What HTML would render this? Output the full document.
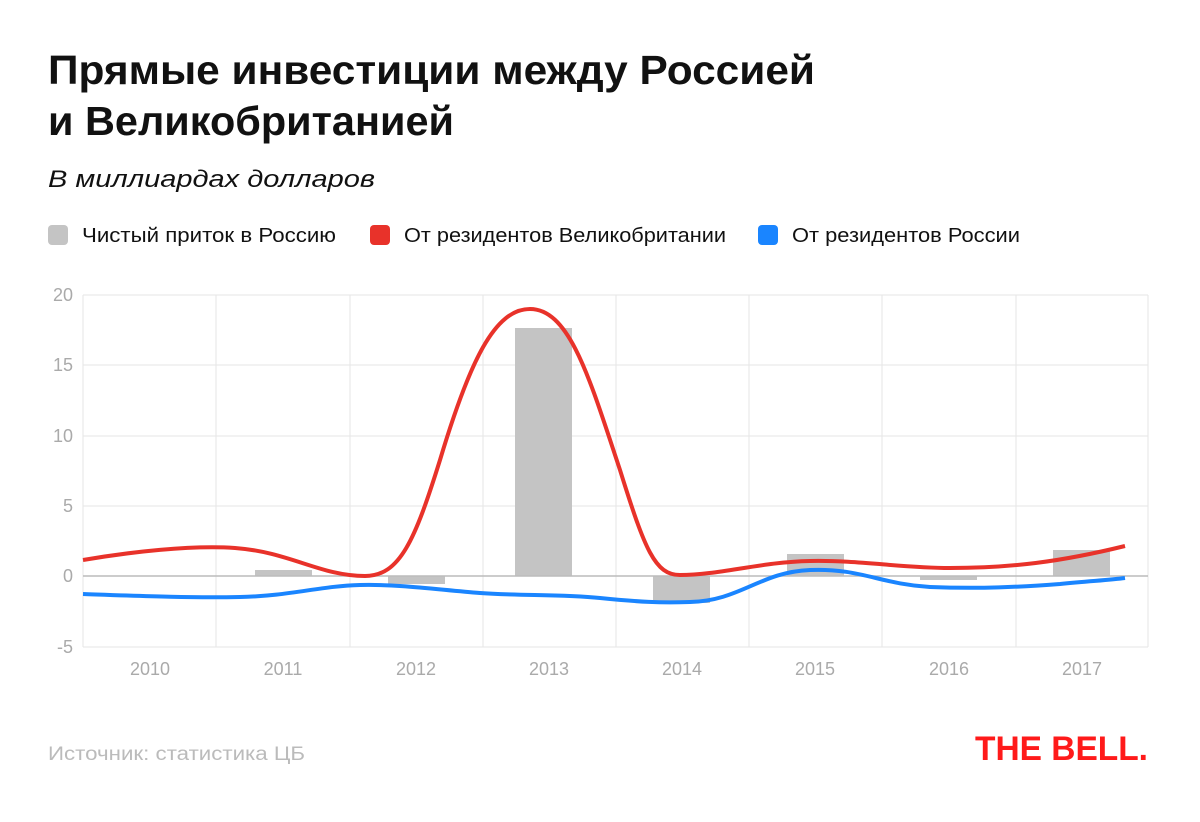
<!DOCTYPE html>
<html><head><meta charset="utf-8"><style>
body{margin:0;background:#fff;width:1200px;height:817px;overflow:hidden;font-family:"Liberation Sans","DejaVu Sans",sans-serif}
</style></head><body>
<svg width="1200" height="817" xmlns="http://www.w3.org/2000/svg" font-family="Liberation Sans, DejaVu Sans, sans-serif">
<text x="48" y="84" font-size="41" font-weight="bold" fill="#111" textLength="767" lengthAdjust="spacingAndGlyphs">Прямые инвестиции между Россией</text>
<text x="48" y="135" font-size="41" font-weight="bold" fill="#111" textLength="406" lengthAdjust="spacingAndGlyphs">и Великобританией</text>
<text x="48" y="187" font-size="24" font-style="italic" fill="#111" textLength="327" lengthAdjust="spacingAndGlyphs">В миллиардах долларов</text>
<rect x="48" y="225" width="20" height="20" rx="4" fill="#c4c4c4"/>
<text x="82" y="242" font-size="20" fill="#111" textLength="254" lengthAdjust="spacingAndGlyphs">Чистый приток в Россию</text>
<rect x="370" y="225" width="20" height="20" rx="4" fill="#e8322a"/>
<text x="404" y="242" font-size="20" fill="#111" textLength="322" lengthAdjust="spacingAndGlyphs">От резидентов Великобритании</text>
<rect x="758" y="225" width="20" height="20" rx="4" fill="#1a85ff"/>
<text x="792" y="242" font-size="20" fill="#111" textLength="228" lengthAdjust="spacingAndGlyphs">От резидентов России</text>
<g stroke="#e6e6e6" stroke-width="1">
<line x1="83" y1="295" x2="1148" y2="295"/><line x1="83" y1="365" x2="1148" y2="365"/>
<line x1="83" y1="436" x2="1148" y2="436"/><line x1="83" y1="506" x2="1148" y2="506"/>
<line x1="83" y1="647" x2="1148" y2="647"/>
<line x1="83" y1="295" x2="83" y2="647"/><line x1="216" y1="295" x2="216" y2="647"/>
<line x1="350" y1="295" x2="350" y2="647"/><line x1="483" y1="295" x2="483" y2="647"/>
<line x1="616" y1="295" x2="616" y2="647"/><line x1="749" y1="295" x2="749" y2="647"/>
<line x1="882" y1="295" x2="882" y2="647"/><line x1="1016" y1="295" x2="1016" y2="647"/>
<line x1="1148" y1="295" x2="1148" y2="647"/>
</g>
<g fill="#aaa" font-size="18" text-anchor="end">
<text x="73" y="301">20</text><text x="73" y="371">15</text><text x="73" y="442">10</text>
<text x="73" y="512">5</text><text x="73" y="582">0</text><text x="73" y="653">-5</text>
</g>
<g fill="#aaa" font-size="18" text-anchor="middle">
<text x="150" y="675">2010</text><text x="283" y="675">2011</text><text x="416" y="675">2012</text>
<text x="549" y="675">2013</text><text x="682" y="675">2014</text><text x="815" y="675">2015</text>
<text x="949" y="675">2016</text><text x="1082" y="675">2017</text>
</g>
<g fill="#c4c4c4">
<rect x="255" y="570" width="57" height="6"/>
<rect x="388" y="576" width="57" height="8"/>
<rect x="515" y="328" width="57" height="248"/>
<rect x="653" y="576" width="57" height="27"/>
<rect x="787" y="554" width="57" height="22"/>
<rect x="920" y="576" width="57" height="4"/>
<rect x="1053" y="550" width="57" height="26"/>
</g>
<line x1="83" y1="576" x2="1148" y2="576" stroke="#bbb" stroke-width="1.5"/>
<path d="M83,560 C130,552 190,545 235,548 C290,552 320,576 365,576 C400,576 415,540 440,460 C470,360 495,309 530,309 C570,309 590,380 620,470 C645,550 655,575 680,575 C720,575 760,562 810,561 C860,560 900,568 950,568 C1010,568 1060,562 1125,546" fill="none" stroke="#e8322a" stroke-width="4"/>
<path d="M83,594 C140,596 190,598 240,597 C290,596 320,586 360,585 C400,584 440,590 480,593 C520,596 560,594 600,598 C640,602 660,603 690,602 C740,601 760,572 810,570 C860,568 880,584 930,587 C980,589 1020,587 1060,584 C1090,581 1110,580 1125,578" fill="none" stroke="#1a85ff" stroke-width="4"/>
<text x="48" y="760" font-size="19" fill="#bbb" textLength="257" lengthAdjust="spacingAndGlyphs">Источник: статистика ЦБ</text>
<text x="975" y="760" font-size="34" font-weight="bold" fill="#ff1a1a" textLength="173" lengthAdjust="spacingAndGlyphs">THE BELL.</text>
</svg>
</body></html>
